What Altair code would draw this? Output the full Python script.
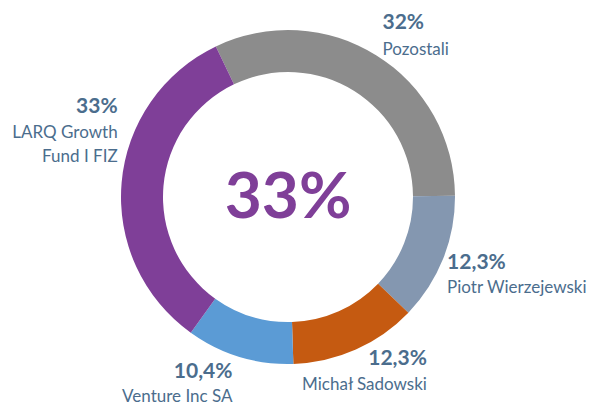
import math
import altair as alt
import pandas as pd

# ---- data ----
names = ["Pozostali", "Piotr Wierzejewski", "Michał Sadowski", "Venture Inc SA", "LARQ Growth\nFund I FIZ"]
values = [32.0, 12.3, 12.3, 10.4, 33.0]
pct_labels = ["32%", "12,3%", "12,3%", "10,4%", "33%"]
colors = ["#8c8c8c", "#8497b0", "#c55a11", "#5b9bd5", "#7f3f98"]
center_label = "33%"

df = pd.DataFrame({
    "name": names,
    "value": values,
    "pct": pct_labels,
    "idx": list(range(len(names))),
})

# label placement offsets (pixels) relative to the outer edge at mid-angle
label_align = ["left", "left", "right", "right", "right"]
pct_off = [(6, -32), (4, 4), (71, 9), (-7, 15), (-4, -75)]
name_off = [(6, -5), (4, 29), (71, 35), (-7, 40), (-4, -49)]

CX, CY = 280, 189
R_OUT, R_IN = 167, 125
start = math.radians(-25.6)
theta_scale = alt.Scale(domain=[0, 100], range=[start, start + 2 * math.pi])
label_color = "#4b6d8d"
FONT = "Lato"

base = alt.Chart(df)

arcs = base.mark_arc(radius=R_OUT, innerRadius=R_IN).encode(
    theta=alt.Theta("value:Q", stack=True, scale=theta_scale),
    order=alt.Order("idx:Q"),
    color=alt.Color("name:N", scale=alt.Scale(domain=names, range=colors), legend=None),
    x=alt.value(CX),
    y=alt.value(CY),
)

stacked = base.transform_window(
    cum="sum(value)", sort=[alt.SortField("idx")], frame=[None, 0]
).transform_calculate(mid="datum.cum - datum.value / 2")

layers = [arcs]
for i, nm in enumerate(names):
    sub = stacked.transform_filter(alt.datum.idx == i)
    enc = dict(
        theta=alt.Theta("mid:Q", stack=None, scale=theta_scale),
        x=alt.value(CX),
        y=alt.value(CY),
    )
    layers.append(
        sub.mark_text(
            radius=R_OUT, dx=pct_off[i][0], dy=pct_off[i][1], align=label_align[i],
            baseline="middle", font=FONT, fontSize=21, fontWeight="bold", color=label_color,
        ).encode(text="pct:N", **enc)
    )
    layers.append(
        sub.mark_text(
            radius=R_OUT, dx=name_off[i][0], dy=name_off[i][1], align=label_align[i],
            baseline="middle", font=FONT, fontSize=17, color=label_color,
            lineBreak="\n", lineHeight=24,
        ).encode(text="name:N", **enc)
    )

center = alt.Chart(pd.DataFrame({"t": [center_label]})).mark_text(
    font=FONT, fontSize=64, fontWeight="bold", color="#7f3f98", baseline="middle", align="center"
).encode(text="t:N", x=alt.value(CX + 0), y=alt.value(CY + 2))
layers.append(center)

chart = alt.layer(*layers).properties(
    width=580, height=395, autosize="none", padding=0
).configure_view(stroke=None)

chart.save("out.html", embed_options={"renderer": "svg", "actions": False})
